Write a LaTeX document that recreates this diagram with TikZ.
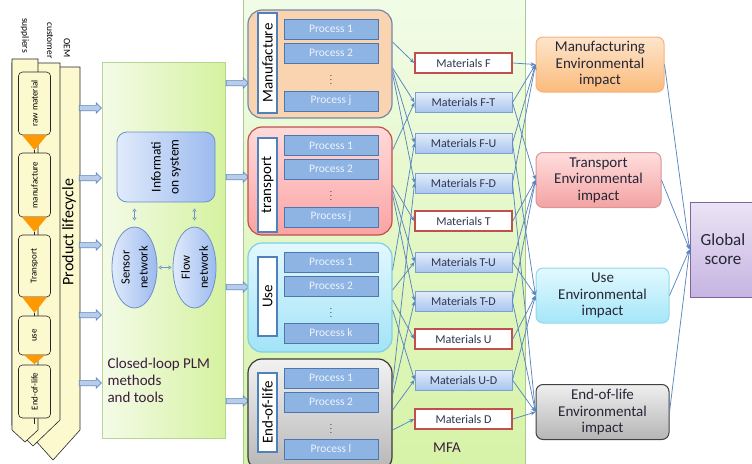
\documentclass[tikz,border=0pt]{standalone}
\usepackage{fontspec}
\setmainfont{Carlito}
\usetikzlibrary{shapes.geometric,shapes.arrows,arrows.meta,calc}
\definecolor{ylw}{HTML}{FDF9CF}
\definecolor{orng}{HTML}{FF9900}
\definecolor{flowc}{HTML}{5A86C0}
\definecolor{barf}{HTML}{B9CDE9}
\definecolor{barb}{HTML}{5F8AC6}
\definecolor{mfal}{HTML}{F2FCE8}
\definecolor{mfad}{HTML}{D6F3A6}
\definecolor{mfab}{HTML}{A9C98E}
\definecolor{plml}{HTML}{F4FBE8}
\definecolor{plmr}{HTML}{D5F2A0}
\definecolor{plmb}{HTML}{B5D592}
\definecolor{infol}{HTML}{E0EAFB}
\definecolor{infor}{HTML}{9CBBEF}
\definecolor{infob}{HTML}{6F90C8}
\definecolor{dblc}{HTML}{6E95CC}
\definecolor{lblc}{HTML}{3D1C3D}
\definecolor{mfgf}{HTML}{FAD3B0}
\definecolor{mfgb}{HTML}{7289AB}
\definecolor{trnt}{HTML}{FFDADA}
\definecolor{trnbot}{HTML}{FBA3A3}
\definecolor{trnb}{HTML}{C0504D}
\definecolor{uset}{HTML}{E2F8FE}
\definecolor{usebot}{HTML}{A3E3F7}
\definecolor{useb}{HTML}{7ECFE8}
\definecolor{eolt}{HTML}{F2F2F2}
\definecolor{eolbot}{HTML}{B6B6B6}
\definecolor{eolb}{HTML}{3A3A3A}
\definecolor{labb}{HTML}{4F81BD}
\definecolor{procf}{HTML}{8EB4E3}
\definecolor{procb}{HTML}{4F76AD}
\definecolor{proct}{HTML}{EEF3FF}
\definecolor{matr}{HTML}{C0504D}
\definecolor{matbt}{HTML}{E3EDFB}
\definecolor{matbbot}{HTML}{A9C5EE}
\definecolor{matbb}{HTML}{7AA0D4}
\definecolor{matt}{HTML}{2E3550}
\definecolor{impt}{HTML}{262636}
\definecolor{imfT}{HTML}{FDE5CB}
\definecolor{imfB}{HTML}{FBBB7C}
\definecolor{imfb}{HTML}{F8B27A}
\definecolor{imtT}{HTML}{FFDEDE}
\definecolor{imtB}{HTML}{F4A2A2}
\definecolor{imtb}{HTML}{D99694}
\definecolor{imuT}{HTML}{E2F9FE}
\definecolor{imuB}{HTML}{A5E6F9}
\definecolor{imub}{HTML}{93D7EC}
\definecolor{imeT}{HTML}{EFEFEF}
\definecolor{imeB}{HTML}{B5B5B5}
\definecolor{imeb}{HTML}{404040}
\definecolor{globt}{HTML}{EBE4F5}
\definecolor{globbot}{HTML}{C6B4E2}
\definecolor{globb}{HTML}{8064A2}
\begin{document}
\begin{tikzpicture}[x=1pt,y=-1pt,
  flow/.style={draw=flowc, line width=0.75pt, -{Stealth[length=5pt,width=4pt]}},
  dbl/.style={draw=dblc, line width=0.9pt, {Latex[open,length=3pt,width=5pt]}-{Latex[open,length=3pt,width=5pt]}},
  colbox/.style={draw=black!85, fill=ylw, rounded corners=4pt, line width=0.6pt, inner sep=0pt, rotate=90, font=\fontsize{9}{10}\selectfont, minimum height=32pt},
  barrow/.style={single arrow, draw=barb, fill=barf, line width=0.7pt, minimum height=22pt, inner sep=2.3pt, single arrow head extend=2.5pt, single arrow head indent=0pt},
  stage/.style={rounded corners=14pt, line width=1.2pt, minimum width=144pt, inner sep=0pt},
  lab/.style={draw=labb, fill=white, line width=1.3pt, rotate=90, minimum height=19pt, inner sep=0pt, font=\fontsize{15}{15}\selectfont},
  proc/.style={draw=procb, fill=procf, line width=0.8pt, minimum width=94pt, minimum height=20pt, inner sep=0pt, text=proct, font=\fontsize{11.5}{12}\selectfont},
  dotsn/.style={inner sep=0pt, text=matt, font=\fontsize{9}{9}\selectfont},
  mat/.style={minimum width=97pt, minimum height=20pt, inner sep=0pt, font=\fontsize{12}{12}\selectfont, text=matt},
  matw/.style={mat, draw=matr, fill=white, line width=1.6pt},
  matb/.style={mat, draw=matbb, top color=matbt, bottom color=matbbot, line width=0.9pt},
  imp/.style={rounded corners=7pt, line width=1pt, minimum height=55pt, inner sep=0pt, align=center, font=\fontsize{15}{16.5}\selectfont, text=impt}
]
\useasboundingbox (0,0) rectangle (752,463);
\clip (0,0) rectangle (752,463);

% ---------- panels ----------
\node[draw=mfab, line width=0.8pt, top color=mfal, bottom color=mfad, minimum width=282pt, minimum height=480pt, inner sep=0pt] (mfa) at (384,231) {};
\node[font=\fontsize{15}{15}\selectfont, text=lblc] (mfalbl) at (447,448) {MFA};

\node[draw=plmb, line width=0.8pt, left color=plml, right color=plmr, minimum width=123pt, minimum height=376pt, inner sep=0pt] (plm) at (163.5,250) {};
\node[anchor=west, align=left, text=lblc, font=\fontsize{15}{17}\selectfont] (plmt) at (104,380) {Closed-loop PLM\\methods\\and tools};

\node[draw=infob, line width=0.8pt, left color=infol, right color=infor, rounded corners=10pt, minimum width=98pt, minimum height=70pt, inner sep=0pt] (info) at (166,167) {};
\node[rotate=90, align=center, font=\fontsize{13.5}{18}\selectfont] (infot) at (info.center) {Informati\\on system};
\node[ellipse, draw=infob, line width=0.8pt, left color=infol, right color=infor, minimum width=45pt, minimum height=81pt, inner sep=0pt] (sens) at (134.5,267.5) {};
\node[rotate=90, align=center, font=\fontsize{12.5}{18}\selectfont] (senst) at (sens.center) {Sensor\\network};
\node[ellipse, draw=infob, line width=0.8pt, left color=infol, right color=infor, minimum width=43pt, minimum height=81pt, inner sep=0pt] (flw) at (194.5,267.5) {};
\node[rotate=90, align=center, font=\fontsize{12.5}{18}\selectfont] (flwt) at (flw.center) {Flow\\network};
\draw[dbl, shorten <=6pt, shorten >=6pt] (sens.north |- info.south) -- (sens.north);
\draw[dbl, shorten <=6pt, shorten >=6pt] (flw.north |- info.south) -- (flw.north);
\draw[dbl, shorten <=1pt, shorten >=1pt] (sens.east) -- (flw.west);

% ---------- product lifecycle column ----------
\draw[black!85, line width=0.6pt, fill=ylw] (26,67) -- (80,67) -- (80,430) -- (53,460) -- (26,430) -- cycle;
\draw[black!85, line width=0.6pt, fill=ylw] (12,63) -- (60,63) -- (60,420) -- (33,446) -- (12,425) -- cycle;
\draw[black!85, line width=0.6pt, fill=ylw] (12,59) -- (38,59) -- (38,430) -- (25,442) -- (12,430) -- cycle;
\node[rotate=-90, anchor=west, inner sep=0pt, font=\fontsize{9.5}{10}\selectfont] (sup) at (25,18) {suppliers};
\node[rotate=-90, anchor=west, inner sep=0pt, font=\fontsize{9.5}{10}\selectfont] (cus) at (50,22) {customer};
\node[rotate=-90, anchor=west, inner sep=0pt, font=\fontsize{9.5}{10}\selectfont] (oem) at (67,38) {OEM};
\node[rotate=90, inner sep=0pt, font=\fontsize{16}{16}\selectfont] (plc) at (69,232) {Product lifecycle};

\node[colbox, minimum width=63pt] (s1) at (34.5,103.5) {raw material};
\node[colbox, minimum width=64pt] (s2) at (34.5,185) {manufacture};
\node[colbox, minimum width=62pt] (s3) at (34.5,266) {Transport};
\node[colbox, minimum width=39pt] (s4) at (34.5,335.5) {use};
\node[colbox, minimum width=53pt] (s5) at (34.5,391.5) {End-of-life};
\fill[orng] (22,135) -- (47,135) -- (34.5,150) -- cycle;
\fill[orng] (22,217) -- (47,217) -- (34.5,232) -- cycle;
\fill[orng] (22,297) -- (47,297) -- (34.5,313) -- cycle;
\fill[orng] (24,355) -- (45,355) -- (34.5,364) -- cycle;
\draw[black!85, line width=0.6pt] (34.5,150) -- (34.5,153);
\draw[black!85, line width=0.6pt] (34.5,232) -- (34.5,235);
\draw[black!85, line width=0.6pt] (34.5,313) -- (34.5,316);
\draw[black!85, line width=0.6pt] (34.5,418) -- (34.5,424);

% ---------- block arrows ----------
\node[barrow] (ba1) at (89,108) {};
\node[barrow] (ba2) at (89,178) {};
\node[barrow] (ba3) at (89,245) {};
\node[barrow] (ba4) at (89,315) {};
\node[barrow] (ba5) at (89,383) {};
\node[barrow] (bb1) at (236,83) {};
\node[barrow] (bb2) at (236,177) {};
\node[barrow] (bb3) at (236,287) {};
\node[barrow] (bb4) at (236,401) {};

% ---------- stages ----------
\node[stage, draw=mfgb, fill=mfgf, minimum height=108pt] (mfg) at (320,64) {};
\node[stage, draw=trnb, top color=trnt, bottom color=trnbot, minimum height=108pt] (trn) at (320,181) {};
\node[stage, draw=useb, top color=uset, bottom color=usebot, minimum height=109pt] (use) at (320,297.5) {};
\node[stage, draw=eolb, top color=eolt, bottom color=eolbot, minimum height=112pt] (eol) at (320,415) {};

\node[lab, minimum width=100pt] (lmfg) at (267.5,63) {Manufacture};
\node[lab, minimum width=94pt] (ltrn) at (267.5,185) {transport};
\node[lab, minimum width=79pt] (luse) at (267.5,296.5) {Use};
\node[lab, minimum width=79pt] (leol) at (267.5,412.5) {End-of-life};

\node[proc] (m1) at (331,29) {Process 1};
\node[proc] (m2) at (331,53) {Process 2};
\node[dotsn] (md) at (331,77) {$\vdots$};
\node[proc] (mj) at (331,101) {Process j};
\node[proc] (t1) at (331,145.5) {Process 1};
\node[proc] (t2) at (331,169) {Process 2};
\node[dotsn] (td) at (331,193) {$\vdots$};
\node[proc] (tj) at (331,217) {Process j};
\node[proc] (u1) at (331,262) {Process 1};
\node[proc] (u2) at (331,286) {Process 2};
\node[dotsn] (ud) at (331,310) {$\vdots$};
\node[proc] (uk) at (331,333) {Process k};
\node[proc] (e1) at (331,378) {Process 1};
\node[proc] (e2) at (331,402) {Process 2};
\node[dotsn] (ed) at (331,426) {$\vdots$};
\node[proc] (el) at (331,449) {Process l};

% ---------- materials ----------
\node[matw] (mF)  at (463.5,63)  {Materials F};
\node[matb] (mFT) at (463.5,102.5) {Materials F-T};
\node[matb] (mFU) at (463.5,143) {Materials F-U};
\node[matb] (mFD) at (463.5,183) {Materials F-D};
\node[matw] (mT)  at (463.5,221) {Materials T};
\node[matb] (mTU) at (463.5,262) {Materials T-U};
\node[matb] (mTD) at (463.5,301) {Materials T-D};
\node[matw] (mU)  at (463.5,339) {Materials U};
\node[matb] (mUD) at (463.5,380) {Materials U-D};
\node[matw] (mD)  at (463.5,419) {Materials D};

% ---------- impacts ----------
\node[imp, draw=imfb, top color=imfT, bottom color=imfB, minimum width=128pt] (imF) at (600,64.5) {Manufacturing\\Environmental\\impact};
\node[imp, draw=imtb, top color=imtT, bottom color=imtB, minimum width=125pt] (imT) at (598.5,180) {Transport\\Environmental\\impact};
\node[imp, draw=imub, top color=imuT, bottom color=imuB, minimum width=133pt] (imU) at (602.5,295.5) {Use\\Environmental\\impact};
\node[imp, draw=imeb, top color=imeT, bottom color=imeB, minimum width=133pt] (imE) at (602.5,412) {End-of-life\\Environmental\\impact};
\node[draw=globb, top color=globt, bottom color=globbot, line width=1pt, minimum width=66pt, minimum height=95pt, inner sep=0pt, align=center, text=impt, font=\fontsize{17}{19}\selectfont] (glob) at (723,249.5) {Global\\score};

% ---------- connectors ----------
\foreach \s/\dy/\m in {mfg/22/mF, mfg/-4/mFT, mfg/-6/mFU, mfg/-10/mFD,
  trn/31/mFT, trn/-4/mT, trn/-9/mTU, trn/-14/mTD,
  use/27.5/mFU, use/7.5/mTU, use/-2.5/mU, use/-12.5/mUD,
  eol/30/mFD, eol/20/mTD, eol/5/mUD, eol/-15/mD}
  \draw[flow] ([yshift=\dy pt]\s.east) -- (\m.west);
\foreach \m/\i in {mF/imF, mFT/imF, mFU/imF, mFD/imF,
  mFT/imT, mT/imT, mTU/imT, mTD/imT,
  mFU/imU, mTU/imU, mU/imU, mUD/imU,
  mFD/imE, mTD/imE, mUD/imE, mD/imE}
  \draw[flow] (\m.east) -- (\i.west);
\foreach \i in {imF,imT,imU,imE}
  \draw[flow] (\i.east) -- (glob.west);
\end{tikzpicture}
\end{document}
